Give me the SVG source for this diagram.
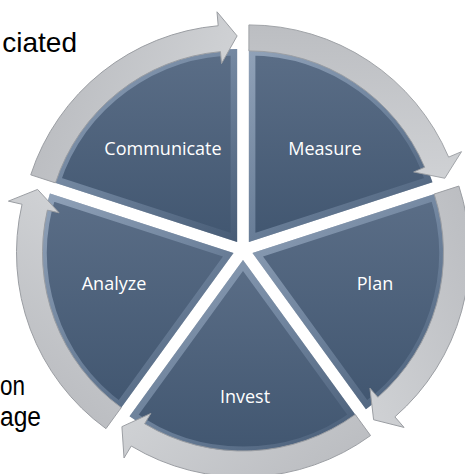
<svg xmlns="http://www.w3.org/2000/svg" xmlns:xlink="http://www.w3.org/1999/xlink" width="465" height="474" viewBox="0 0 465 474">
<defs>
<linearGradient id="wfill" x1="0" y1="0" x2="0" y2="1">
<stop offset="0" stop-color="#5b6e87"/>
<stop offset="1" stop-color="#415670"/>
</linearGradient>
<linearGradient id="bevel" x1="0" y1="0" x2="1" y2="1">
<stop offset="0" stop-color="#c6d6ea"/>
<stop offset="0.5" stop-color="#8ea3bd"/>
<stop offset="1" stop-color="#4c607a"/>
</linearGradient>
<linearGradient id="afill" x1="0" y1="0" x2="1" y2="0">
<stop offset="0" stop-color="#cfd1d4"/>
<stop offset="1" stop-color="#bcbec2"/>
</linearGradient>
<path id="arrow" d="M217,0 A217,217 0 0 1 84.79,199.75 L90.26,212.64 L63.66,195.92 L69.94,164.77 L74.63,175.82 A191,191 0 0 0 191,0 Z"/>
<path id="w1" d="M237.12,241.91 L53.57,182.27 A193,193 0 0 1 237.12,48.91 Z"/>
<path id="w2" d="M248.88,241.91 L248.88,48.91 A193,193 0 0 1 432.43,182.27 Z"/>
<path id="w3" d="M252.51,253.09 L436.06,193.45 A193,193 0 0 1 365.95,409.23 Z"/>
<path id="w4" d="M243,260 L356.44,416.14 A193,193 0 0 1 129.56,416.14 Z"/>
<path id="w5" d="M233.49,253.09 L120.05,409.23 A193,193 0 0 1 49.94,193.45 Z"/>
<clipPath id="c1"><use xlink:href="#w1"/></clipPath>
<clipPath id="c2"><use xlink:href="#w2"/></clipPath>
<clipPath id="c3"><use xlink:href="#w3"/></clipPath>
<clipPath id="c4"><use xlink:href="#w4"/></clipPath>
<clipPath id="c5"><use xlink:href="#w5"/></clipPath>
</defs>
<style>
.wedge{fill:url(#wfill);}
.bev{fill:none;stroke:url(#bevel);stroke-width:13;stroke-opacity:0.5;stroke-linejoin:miter;}
.arr{fill:url(#afill);stroke:#9a9da2;stroke-width:0.9;}
.lbl{font-family:"Open Sans","Noto Sans","DejaVu Sans",sans-serif;font-size:18px;fill:#ffffff;text-anchor:middle;}
.side{font-family:"Liberation Sans",Arial,sans-serif;font-size:27px;fill:#000000;}
.big{font-size:28px;}
</style>
<rect width="465" height="474" fill="#ffffff"/>
<text class="side big" x="77" y="52" text-anchor="end">ciated</text>
<text class="side" x="0" y="395" textLength="25" lengthAdjust="spacingAndGlyphs">on</text>
<text class="side" x="0" y="426" textLength="41" lengthAdjust="spacingAndGlyphs">age</text>
<g id="node-communicate">
<use xlink:href="#w1" class="wedge"/>
<use xlink:href="#w1" class="bev" clip-path="url(#c1)"/>
<text class="lbl" x="163" y="155">Communicate</text>
</g>
<g id="node-measure">
<use xlink:href="#w2" class="wedge"/>
<use xlink:href="#w2" class="bev" clip-path="url(#c2)"/>
<text class="lbl" x="325" y="155">Measure</text>
</g>
<g id="node-plan">
<use xlink:href="#w3" class="wedge"/>
<use xlink:href="#w3" class="bev" clip-path="url(#c3)"/>
<text class="lbl" x="375" y="290">Plan</text>
</g>
<g id="node-invest">
<use xlink:href="#w4" class="wedge"/>
<use xlink:href="#w4" class="bev" clip-path="url(#c4)"/>
<text class="lbl" x="245" y="403">Invest</text>
</g>
<g id="node-analyze">
<use xlink:href="#w5" class="wedge"/>
<use xlink:href="#w5" class="bev" clip-path="url(#c5)"/>
<text class="lbl" x="114" y="290">Analyze</text>
</g>
<g id="connectors">
<use xlink:href="#arrow" class="arr" transform="translate(237.12,241.91) rotate(198)"/>
<use xlink:href="#arrow" class="arr" transform="translate(248.88,241.91) rotate(270)"/>
<use xlink:href="#arrow" class="arr" transform="translate(252.51,253.09) rotate(342)"/>
<use xlink:href="#arrow" class="arr" transform="translate(243,260) rotate(54)"/>
<use xlink:href="#arrow" class="arr" transform="translate(233.49,253.09) rotate(126)"/>
</g>
</svg>
